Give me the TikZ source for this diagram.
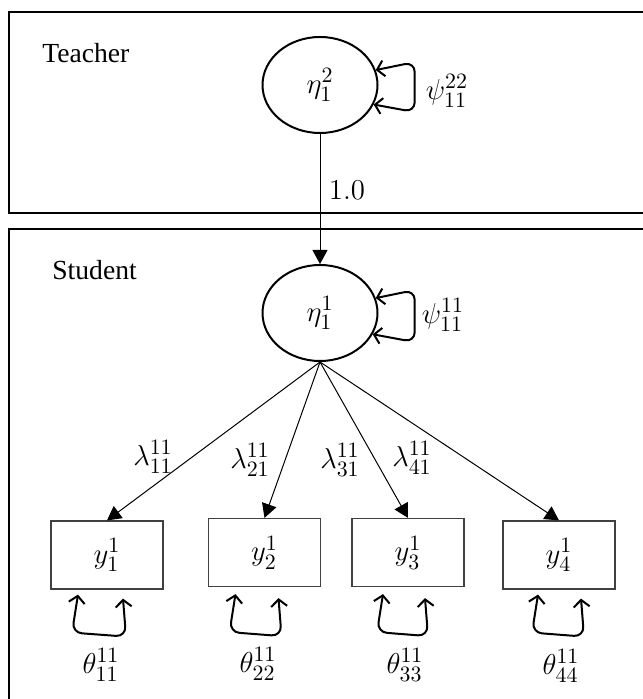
\documentclass[tikz,border=0pt]{standalone}
\usepackage{amsmath,amssymb}
\usepackage[no-math]{fontspec}
\setmainfont{Liberation Serif}
\usepackage{tikz}
\usetikzlibrary{arrows.meta,positioning,shapes.geometric,calc}

\begin{document}
\begin{tikzpicture}[x=0.5pt,y=-0.5pt,font=\fontsize{15}{18}\selectfont,
    latent/.style={draw,ellipse,line width=1pt,minimum width=57.5pt,minimum height=48pt,inner sep=0pt},
    observed/.style={draw=black!75,line width=0.6pt,minimum width=56pt,minimum height=34pt,inner sep=0pt},
    frame/.style={line width=1.1pt},
    grp/.style={anchor=west,inner sep=0pt,font=\fontsize{13.8}{16}\selectfont},
    loading/.style={-{Triangle[length=7pt,width=7.5pt]},line width=0.5pt},
    varloop/.style={{Straight Barb[length=3.5pt,width=8pt]}-{Straight Barb[length=3.5pt,width=8pt]},line width=1pt,rounded corners=5pt}]
      \useasboundingbox (0,0) rectangle (642,699);
      \draw[frame] (9,12) rectangle (645,213);
      \draw[frame] (9,229) rectangle (645,706);
      \node[grp] (teacher) at (42,53) {Teacher};
      \node[grp] (student) at (52,270) {Student};
      \node[latent] (eta2) at (320,85) {$\eta_1^2$};
      \node[latent] (eta1) at (320,313) {$\eta_1^1$};
      \draw[varloop] (eta2.15) -- ++(39,-8) -- ++(0,50) -- (eta2.-20);
      \node (psi2) at (447,91) {$\psi_{11}^{22}$};
      \draw[varloop] (eta1.15) -- ++(39,-8) -- ++(0,52) -- (eta1.-22);
      \node (psi1) at (443,315) {$\psi_{11}^{11}$};
      \draw[loading] (eta2) -- (eta1);
      \node (one) at (347,190) {$1.0$};
      \node[observed] (y1) at (107,555) {$y_1^1$};
      \node[observed] (y2) at (264.5,552.5) {$y_2^1$};
      \node[observed] (y3) at (408,552.5) {$y_3^1$};
      \node[observed] (y4) at (559,555) {$y_4^1$};
      \draw[loading] (eta1.south) -- (y1.north);
      \draw[loading] (eta1.south) -- (y2.north);
      \draw[loading] (eta1.south) -- (y3.north);
      \draw[loading] (eta1.south) -- (y4.north);
      \node (l1) at (153,457) {$\lambda_{11}^{11}$};
      \node (l2) at (250,460) {$\lambda_{21}^{11}$};
      \node (l3) at (340,460) {$\lambda_{31}^{11}$};
      \node (l4) at (412,458) {$\lambda_{41}^{11}$};
      \draw[varloop] ([shift={(-29,5)}]y1.south) -- ++(-6,38) -- ++(54,4) -- ([shift={(16,9)}]y1.south);
      \draw[varloop] ([shift={(-29,7)}]y2.south) -- ++(-6,38) -- ++(52,4) -- ([shift={(14,11)}]y2.south);
      \draw[varloop] ([shift={(-25,7)}]y3.south) -- ++(-6,38) -- ++(51,4) -- ([shift={(17,11)}]y3.south);
      \draw[varloop] ([shift={(-21,5)}]y4.south) -- ++(-6,38) -- ++(52,4) -- ([shift={(22,9)}]y4.south);
      \node (t1) at (101,665) {$\theta_{11}^{11}$};
      \node (t2) at (258,664) {$\theta_{22}^{11}$};
      \node (t3) at (405,665) {$\theta_{33}^{11}$};
      \node (t4) at (561,666) {$\theta_{44}^{11}$};
    \end{tikzpicture}
\end{document}
